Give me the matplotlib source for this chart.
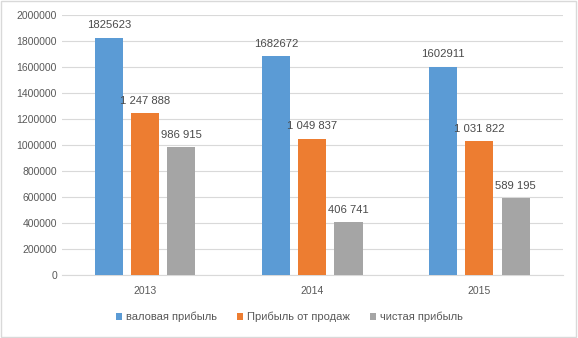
import matplotlib
matplotlib.use("Agg")
import matplotlib.pyplot as plt
import numpy as np
from matplotlib.patches import Rectangle

years = ["2013", "2014", "2015"]
gross = [1825623, 1682672, 1602911]
sales = [1247888, 1049837, 1031822]
net = [986915, 406741, 589195]
gross_labels = ["1825623", "1682672", "1602911"]
sales_labels = ["1 247 888", "1 049 837", "1 031 822"]
net_labels = ["986 915", "406 741", "589 195"]
series_names = ["валовая прибыль", "Прибыль от продаж", "чистая прибыль"]
colors = ["#5B9BD5", "#ED7D31", "#A5A5A5"]
yticks = [0, 200000, 400000, 600000, 800000, 1000000, 1200000, 1400000, 1600000, 1800000, 2000000]

plt.rcParams['font.family'] = ['Liberation Sans', 'DejaVu Sans']
tc = "#595959"

fig = plt.figure(figsize=(5.78, 3.38), dpi=100)
fig.patch.set_facecolor("white")
fig.add_artist(Rectangle((0.002, 0.003), 0.995, 0.993, transform=fig.transFigure,
                         fill=False, edgecolor="#D9D9D9", linewidth=1))
ax = fig.add_axes([0.107, 0.186, 0.867, 0.770])

x = np.arange(len(years))
w = 0.168
off = 0.216
for i, (vals, labs) in enumerate(zip([gross, sales, net], [gross_labels, sales_labels, net_labels])):
    pos = x + (i - 1) * off
    ax.bar(pos, vals, width=w, color=colors[i], label=series_names[i], zorder=3)
    for p, v, l in zip(pos, vals, labs):
        ax.text(p, v + 55000, l, ha="center", va="bottom", fontsize=8.1, color="#4a4a4a")

ax.set_xlim(-0.5, 2.5)
ax.set_ylim(0, 2000000)
ax.set_yticks(yticks)
ax.set_yticklabels([str(t) for t in yticks])
ax.set_xticks(x)
ax.set_xticklabels(years)
ax.grid(axis="y", color="#D9D9D9", linewidth=0.8, zorder=0)
for s in ["top", "right", "left"]:
    ax.spines[s].set_visible(False)
ax.spines["bottom"].set_color("#D9D9D9")
ax.tick_params(axis="both", length=0, labelsize=7.5, colors=tc)
ax.tick_params(axis="x", pad=8)

leg = fig.legend(loc="center", bbox_to_anchor=(0.5, 0.062), ncol=3, frameon=False,
                 fontsize=8, handlelength=0.6, handleheight=0.6, columnspacing=1.8, handletextpad=0.3)
for t in leg.get_texts():
    t.set_color(tc)

fig.savefig("out.png", dpi=100)
